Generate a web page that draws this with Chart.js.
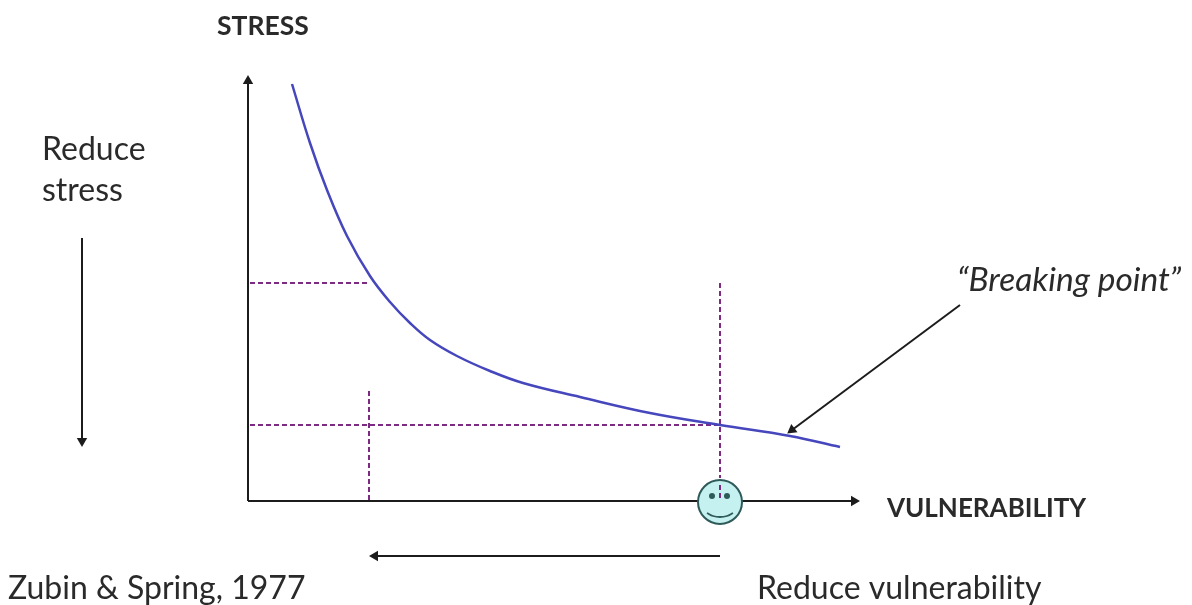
<!DOCTYPE html>
<html>
<head>
<meta charset="utf-8">
<title>Stress vulnerability</title>
<script src="https://cdn.jsdelivr.net/npm/chart.js@4"></script>
<style>
    body { margin: 0; background: #fff; }
    canvas { display: block; filter: blur(0.5px); }
</style>
</head>
<body>
<canvas id="stressChart" width="1192" height="605"></canvas>
<script>
// Curve (origin = where the two axes cross)
const vulnerability = [44, 62, 79, 99, 122, 142, 162, 182, 209, 242, 275, 332, 402, 472, 542, 592];
const stress = [417, 358, 311, 265, 225, 199, 178, 161, 145, 130, 118, 104, 88, 76, 65, 54];

// Guides and arrows, each as [x1, x2] and [y1, y2]
const yAxisX = [0, 0], yAxisY = [0, 420];
const xAxisX = [0, 606], xAxisY = [0, 0];
const upperGuideX = [2, 122], upperGuideY = [218, 218];
const lowerGuideX = [2, 472], lowerGuideY = [76, 76];
const leftDropX = [121, 121], leftDropY = [110, 0];
const rightDropX = [472, 472], rightDropY = [218, 23];
const faceLineX = [472, 472], faceLineY = [16, 0];
const reduceStressX = [-166, -166], reduceStressY = [263, 60];
const reduceVulnX = [472, 127], reduceVulnY = [-55, -55];
const breakingX = [712, 544], breakingY = [196, 71];

// Smiley
const faceX = [472], faceY = [-1];
const eyesX = [464, 479], eyesY = [5, 5];
const smileX = [459, 465, 472, 479, 485], smileY = [-12, -15, -16, -15, -12];

const titleStress = 'STRESS';
const titleVulnerability = 'VULNERABILITY';
const reduceStressLines = ['Reduce', 'stress'];
const reduceVulnLabel = 'Reduce vulnerability';
const breakingLabel = '\u201CBreaking point\u201D';
const sourceLabel = 'Zubin & Spring, 1977';

function toPoints(xs, ys) {
    return xs.map(function(x, i) { return { x: x, y: ys[i] }; });
}

const ink = '#1c1c1c';
const purple = '#7d2a85';

function guide(xs, ys) {
    return {
        data: toPoints(xs, ys),
        borderColor: purple,
        borderWidth: 2,
        borderDash: [5, 3],
        pointRadius: 0,
        showLine: true
    };
}

// Solid line with a triangle on its last point
function arrow(xs, ys, rotation) {
    return {
        data: toPoints(xs, ys),
        borderColor: ink,
        backgroundColor: ink,
        borderWidth: 2,
        pointStyle: 'triangle',
        pointRotation: rotation,
        pointRadius: [0, 6],
        pointBorderWidth: 0,
        showLine: true
    };
}

// Text goes on with the chart
const textPlugin = {
    id: 'textPlugin',
    afterDraw: function(chart) {
        const ctx = chart.ctx;
        ctx.save();
        ctx.fillStyle = '#2a2a2a';
        ctx.textBaseline = 'alphabetic';
        ctx.font = 'bold 26.5px Lato';
        ctx.fillText(titleStress, 217, 35);
        ctx.font = 'bold 26px Lato';
        ctx.fillText(titleVulnerability, 887, 517);
        ctx.font = '32px Lato';
        ctx.fillText(reduceStressLines[0], 42, 160);
        ctx.fillText(reduceStressLines[1], 42, 201);
        ctx.fillText(reduceVulnLabel, 757, 599);
        ctx.fillText(sourceLabel, 8, 599);
        ctx.font = 'italic 33.5px Lato';
        ctx.fillText(breakingLabel, 957, 291);
        ctx.restore();
    }
};

// Chart.js paints the first dataset on top, so the face details come first
new Chart(document.getElementById('stressChart'), {
    type: 'scatter',
    data: {
        datasets: [
            {
                data: toPoints(smileX, smileY),
                borderColor: '#2f5a5a',
                borderWidth: 1.8,
                pointRadius: 0,
                showLine: true,
                tension: 0.4
            },
            {
                data: toPoints(eyesX, eyesY),
                pointRadius: 3,
                pointBackgroundColor: '#2f5a5a',
                pointBorderWidth: 0
            },
            guide(faceLineX, faceLineY),
            {
                data: toPoints(faceX, faceY),
                pointRadius: 22,
                pointBackgroundColor: '#c6f1f1',
                pointBorderColor: '#2f5a5a',
                pointBorderWidth: 2
            },
            {
                data: toPoints(vulnerability, stress),
                borderColor: '#4646bd',
                borderWidth: 2.5,
                pointRadius: 0,
                showLine: true,
                tension: 0.4
            },
            guide(upperGuideX, upperGuideY),
            guide(lowerGuideX, lowerGuideY),
            guide(leftDropX, leftDropY),
            guide(rightDropX, rightDropY),
            arrow(yAxisX, yAxisY, 0),
            arrow(xAxisX, xAxisY, 90),
            arrow(reduceStressX, reduceStressY, 180),
            arrow(reduceVulnX, reduceVulnY, 270),
            arrow(breakingX, breakingY, 233)
        ]
    },
    options: {
        responsive: false,
        animation: false,
        layout: { padding: 0, autoPadding: false },
        plugins: {
            legend: { display: false },
            tooltip: { enabled: false },
            title: { display: false }
        },
        // Axes hidden: the picture draws its own arrows
        scales: {
            x: { type: 'linear', display: false, min: -248, max: 944 },
            y: { type: 'linear', display: false, min: -104, max: 501 }
        }
    },
    plugins: [textPlugin]
});
</script>
</body>
</html>
